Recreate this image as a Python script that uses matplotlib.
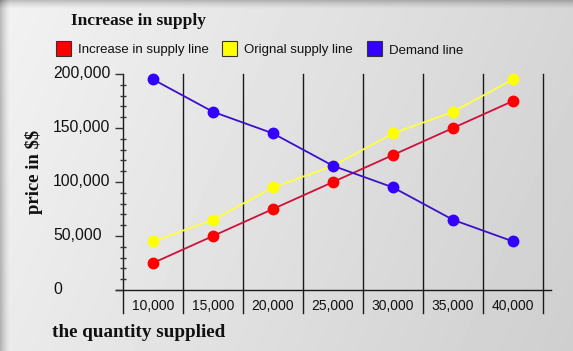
import numpy as np
import matplotlib.pyplot as plt
from matplotlib.patches import Rectangle

# chart data
quantity = ["10,000", "15,000", "20,000", "25,000", "30,000", "35,000", "40,000"]
increase_supply = [25000, 50000, 75000, 100000, 125000, 150000, 175000]
original_supply = [45000, 65000, 95000, 115000, 145000, 165000, 195000]
demand = [195000, 165000, 145000, 115000, 95000, 65000, 45000]
y_ticks = [0, 50000, 100000, 150000, 200000]
y_labels = ["0", "50,000", "100,000", "150,000", "200,000"]

W, H = 573, 351
fig = plt.figure(figsize=(W / 100, H / 100), dpi=100)

# grey gradient backdrop with a soft shadow on the left/top edges
gx, gy = np.meshgrid(np.linspace(0, 1, W), np.linspace(0, 1, H))
shade = 0.95 - 0.11 * gx - 0.03 * gy
left = np.clip(1 - np.arange(W) / 10, 0, 1)[None, :]
top = np.clip(1 - np.arange(H) / 9, 0, 1)[:, None]
shade = shade - 0.22 * left ** 1.5 - 0.2 * top ** 1.5
bg = fig.add_axes([0, 0, 1, 1])
bg.imshow(shade, cmap="gray", vmin=0, vmax=1, aspect="auto", interpolation="bilinear")
bg.axis("off")

ax = fig.add_axes([123 / W, 1 - 290 / H, 420 / W, 216 / H])
ax.patch.set_alpha(0)
ax.set_xlim(0, len(quantity))
ax.set_ylim(0, 200000)
for s in ax.spines.values():
    s.set_visible(False)

x = np.arange(len(quantity)) + 0.5

# vertical separators, running below the axis between the tick labels
xt = ax.get_xaxis_transform()
for i in range(len(quantity) + 1):
    ax.plot([i, i], [-23 / 216, 1], color="#1a1a1a", lw=1.0, transform=xt,
            clip_on=False, zorder=1)
# horizontal axis line
ax.plot([-7 / 420, 428 / 420], [0, 0], color="#1a1a1a", lw=1.0,
        transform=ax.transAxes, clip_on=False, zorder=1)

ax.plot(x, increase_supply, color="#d0103a", lw=1.3, marker="o", ms=7.5,
        mfc="#ff0000", mec="#ff0000", clip_on=False, zorder=3)
ax.plot(x, original_supply, color="#ffff40", lw=1.3, marker="o", ms=7.5,
        mfc="#ffff00", mec="#ffff00", clip_on=False, zorder=3)
ax.plot(x, demand, color="#3a10c8", lw=1.3, marker="o", ms=7.5,
        mfc="#3300ff", mec="#3300ff", clip_on=False, zorder=3)

# y ticks
ax.set_xticks([])
ax.set_yticks(y_ticks)
ax.set_yticks(np.arange(0, 200001, 10000), minor=True)
ax.tick_params(axis="y", which="major", length=5.5, direction="out",
               color="#333333", labelleft=False, width=1)
ax.tick_params(axis="y", which="minor", length=4.5, direction="inout",
               color="#333333", width=1)

yt = ax.get_yaxis_transform()
for v, lab in zip(y_ticks, y_labels):
    ax.text(-70 / 420, v, lab, transform=yt, ha="left", va="center",
            fontsize=11.3, family="Liberation Sans", color="#111111")
for xi, lab in zip(x, quantity):
    ax.text(xi, -16 / 216, lab, transform=xt, ha="center", va="center",
            fontsize=10, family="Liberation Sans", color="#111111")

# title and axis labels
serif = dict(family="Liberation Serif", weight="bold", color="#111111")
fig.text(71 / W, 1 - 25 / H, "Increase in supply", fontsize=12.5,
         va="baseline", ha="left", **serif)
fig.text(52 / W, 1 - 337 / H, "the quantity supplied", fontsize=13.8,
         va="baseline", ha="left", **serif)
fig.text(34 / W, 1 - 172 / H, r"price in \$\$", fontsize=13.5, rotation=90,
         va="center", ha="center", **serif)

# legend
legend_items = [("Increase in supply line", "#ff0000", 56),
                ("Orignal supply line", "#ffff00", 222),
                ("Demand line", "#3300ff", 367)]
for label, col, px in legend_items:
    fig.patches.append(Rectangle((px / W, 1 - 56 / H), 15 / W, 15 / H,
                                 facecolor=col, edgecolor="#333333", lw=0.8,
                                 transform=fig.transFigure))
    fig.text((px + 22) / W, 1 - 53.5 / H, label, fontsize=9.5,
             family="Liberation Sans", va="baseline", ha="left", color="#111111")

fig.savefig("out.png", dpi=100)
